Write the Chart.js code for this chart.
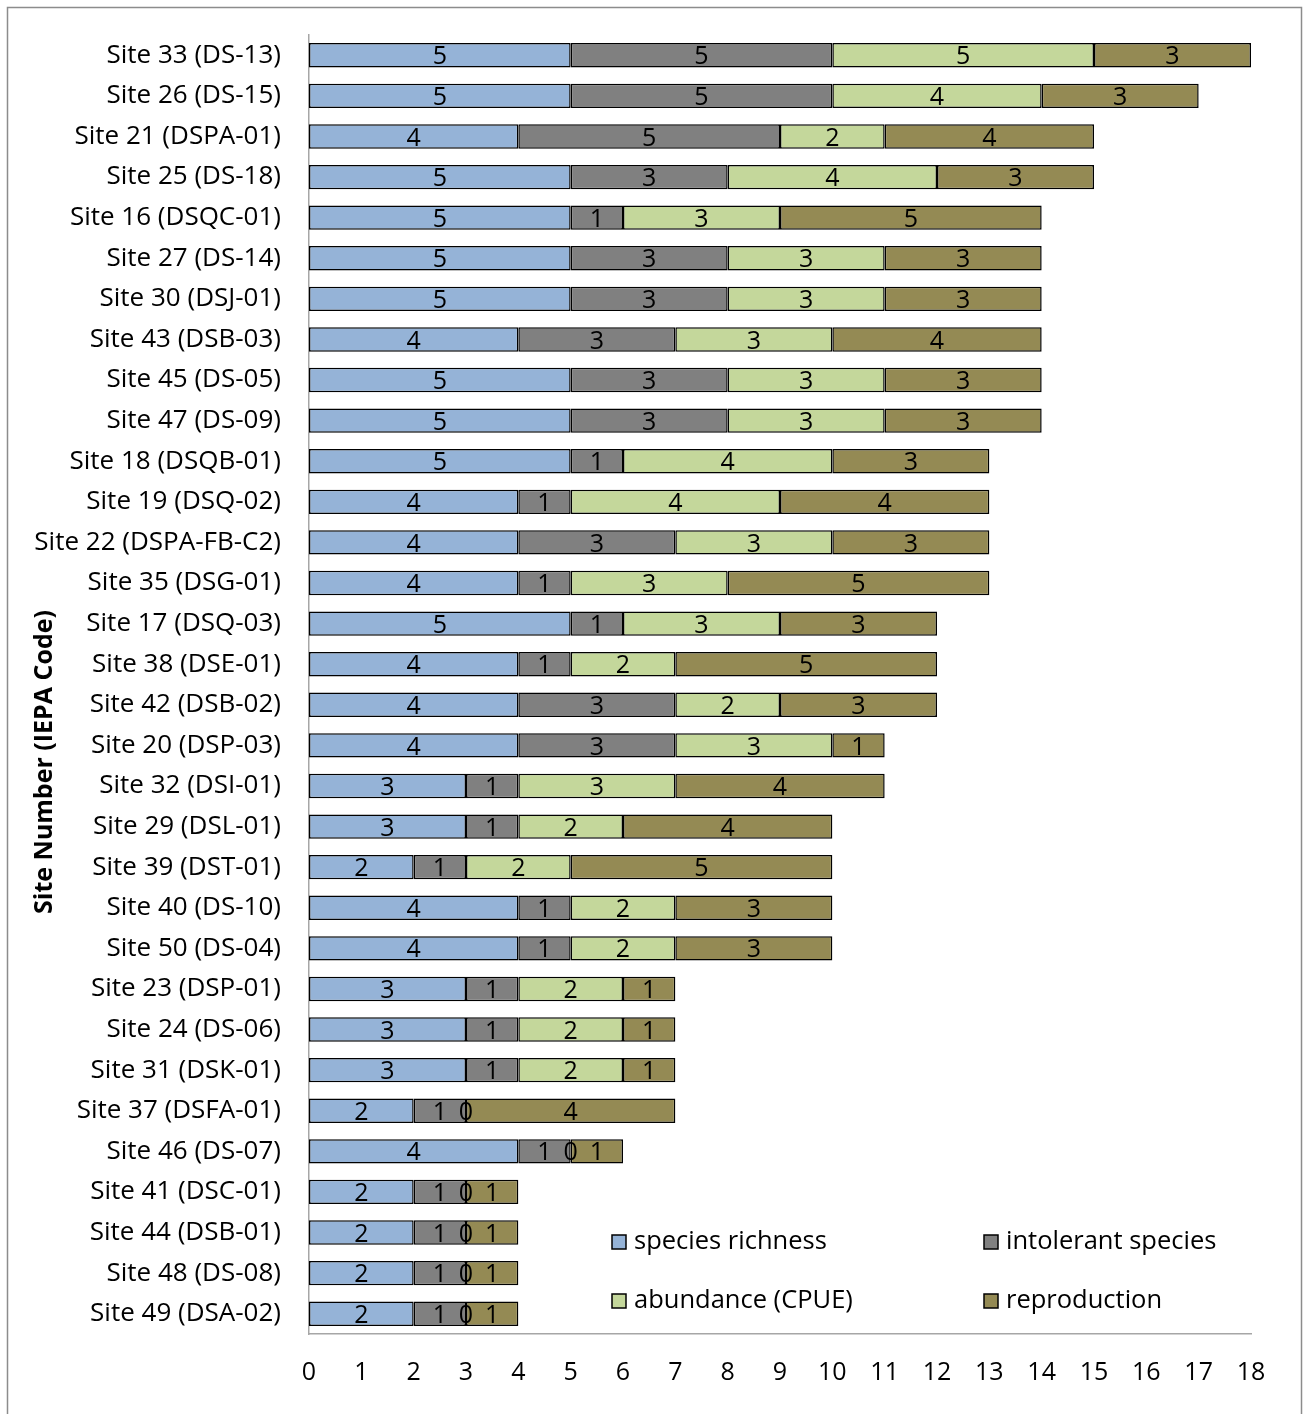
<!DOCTYPE html>
<html>
<head>
<meta charset="utf-8">
<script src="https://cdn.jsdelivr.net/npm/chart.js@4.4.1/dist/chart.umd.min.js"></script>
<style>
html,body{margin:0;padding:0;background:#fff;}
canvas{display:block;}
</style>
</head>
<body>
<canvas id="c" width="1304" height="1414"></canvas>
<script>
const categories = [
  "Site 33 (DS-13)","Site 26 (DS-15)","Site 21 (DSPA-01)","Site 25 (DS-18)","Site 16 (DSQC-01)",
  "Site 27 (DS-14)","Site 30 (DSJ-01)","Site 43 (DSB-03)","Site 45 (DS-05)","Site 47 (DS-09)",
  "Site 18 (DSQB-01)","Site 19 (DSQ-02)","Site 22 (DSPA-FB-C2)","Site 35 (DSG-01)","Site 17 (DSQ-03)",
  "Site 38 (DSE-01)","Site 42 (DSB-02)","Site 20 (DSP-03)","Site 32 (DSI-01)","Site 29 (DSL-01)",
  "Site 39 (DST-01)","Site 40 (DS-10)","Site 50 (DS-04)","Site 23 (DSP-01)","Site 24 (DS-06)",
  "Site 31 (DSK-01)","Site 37 (DSFA-01)","Site 46 (DS-07)","Site 41 (DSC-01)","Site 44 (DSB-01)",
  "Site 48 (DS-08)","Site 49 (DSA-02)"
];
const speciesRichness = [5,5,4,5,5,5,5,4,5,5,5,4,4,4,5,4,4,4,3,3,2,4,4,3,3,3,2,4,2,2,2,2];
const intolerantSpecies = [5,5,5,3,1,3,3,3,3,3,1,1,3,1,1,1,3,3,1,1,1,1,1,1,1,1,1,1,1,1,1,1];
const abundanceCPUE = [5,4,2,4,3,3,3,3,3,3,4,4,3,3,3,2,2,3,3,2,2,2,2,2,2,2,0,0,0,0,0,0];
const reproduction = [3,3,4,3,5,3,3,4,3,3,3,4,3,5,3,5,3,1,4,4,5,3,3,1,1,1,4,1,1,1,1,1];
const xTicks = [0,1,2,3,4,5,6,7,8,9,10,11,12,13,14,15,16,17,18];
const seriesNames = ["species richness","intolerant species","abundance (CPUE)","reproduction"];
const axisTitle = "Site Number (IEPA Code)";

const colors = ["#95B3D7","#808080","#C4D79B","#948A54"];
const FONT = "'Open Sans', sans-serif";

const labelPlugin = {
  id: 'segLabels',
  afterDatasetsDraw(chart) {
    const ctx = chart.ctx;
    ctx.save();
    ctx.font = "25px " + FONT;
    ctx.fillStyle = "#000";
    ctx.textAlign = "center";
    ctx.textBaseline = "middle";
    chart.data.datasets.forEach((ds, di) => {
      const meta = chart.getDatasetMeta(di);
      meta.data.forEach((bar, i) => {
        const v = ds.data[i];
        const cx = (bar.x + bar.base) / 2;
        ctx.fillText(String(v), cx, bar.y + 2);
      });
    });
    ctx.restore();
  }
};

const decoPlugin = {
  id: 'deco',
  beforeDraw(chart) {
    const ctx = chart.ctx;
    ctx.save();
    ctx.fillStyle = "#fff";
    ctx.fillRect(0,0,chart.width,chart.height);
    ctx.restore();
  },
  afterDraw(chart) {
    const ctx = chart.ctx;
    ctx.save();
    ctx.strokeStyle = "#8c8c8c";
    ctx.lineWidth = 1.5;
    ctx.strokeRect(7.5, 7.5, 1294, 1440);
    ctx.translate(45, 762);
    ctx.rotate(-Math.PI/2);
    ctx.font = "bold 25px " + FONT;
    ctx.fillStyle = "#000";
    ctx.textAlign = "center";
    ctx.textBaseline = "middle";
    ctx.fillText(axisTitle, 0, 0);
    ctx.restore();
    ctx.save();
    const pos = [[612,1242],[984,1242],[612,1301],[984,1301]];
    ctx.font = "25.5px " + FONT;
    ctx.textBaseline = "middle";
    ctx.textAlign = "left";
    seriesNames.forEach((n, k) => {
      const [x, y] = pos[k];
      ctx.fillStyle = colors[k];
      ctx.fillRect(x, y - 7, 14, 14);
      ctx.strokeStyle = "#000";
      ctx.lineWidth = 1.5;
      ctx.strokeRect(x, y - 7, 14, 14);
      ctx.fillStyle = "#000";
      ctx.fillText(n, x + 22, y);
    });
    ctx.restore();
  }
};

new Chart(document.getElementById('c'), {
  type: 'bar',
  data: {
    labels: categories,
    datasets: [speciesRichness, intolerantSpecies, abundanceCPUE, reproduction].map((d, k) => ({
      label: seriesNames[k],
      data: d,
      backgroundColor: colors[k],
      borderColor: "#000",
      borderWidth: 1.5,
      borderSkipped: false,
      barPercentage: 0.6,
      categoryPercentage: 1.0
    }))
  },
  options: {
    indexAxis: 'y',
    responsive: false,
    animation: false,
    devicePixelRatio: 1,
    layout: { padding: { top: 35, right: 53, bottom: 0, left: 0 } },
    plugins: { legend: { display: false }, tooltip: { enabled: false } },
    scales: {
      x: {
        stacked: true,
        min: 0, max: 18,
        afterBuildTicks(s) { s.ticks = xTicks.map(v => ({ value: v })); },
        afterFit(s) { s.height = 80; s.paddingLeft = 0; s.paddingRight = 0; },
        grid: { display: false, drawTicks: false },
        border: { display: true, color: "#a6a6a6", width: 1.5 },
        ticks: { font: { family: FONT, size: 25 }, color: "#000", padding: 24, maxRotation: 0, autoSkip: false }
      },
      y: {
        stacked: true,
        afterFit(s) { s.width = 309; s.paddingTop = 0; s.paddingBottom = 0; },
        grid: { display: false, drawTicks: false },
        border: { display: true, color: "#a6a6a6", width: 1.5 },
        ticks: { font: { family: FONT, size: 26 }, color: "#000", padding: 28, autoSkip: false }
      }
    }
  },
  plugins: [labelPlugin, decoPlugin]
});
</script>
</body>
</html>
